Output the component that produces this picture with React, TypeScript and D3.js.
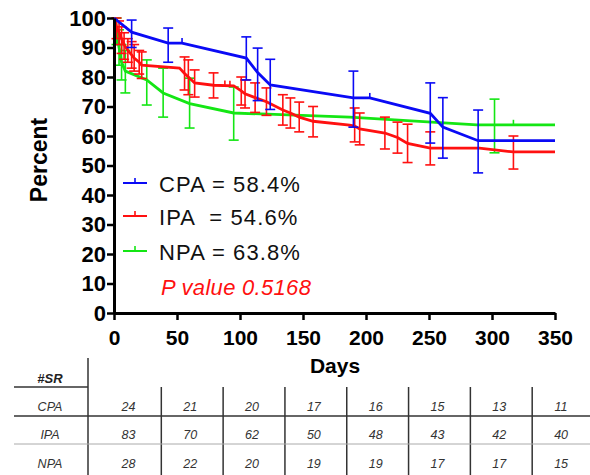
import * as d3 from "d3";
import { useEffect, useRef } from "react";

// [day, percent, lower, upper]  (null = no error bar)
type Pt = [number, number, number | null, number | null];

const cpaPoints: Pt[] = [
  [0, 100, null, null],
  [14, 95.2, 90, 99.3],
  [43, 91.5, 85, 96.6],
  [54, 91.5, null, null],
  [105, 86.4, 79, 93.6],
  [114, 81.5, 72, 89.8],
  [124, 77.3, 69, 86],
  [190, 72.9, 63, 82],
  [203, 72.9, null, null],
  [251, 67.7, 57.6, 78],
  [261, 63, 52.5, 73],
  [289, 58.4, 47.5, 68.8],
  [350, 58.4, null, null],
];

const ipaPoints: Pt[] = [
  [0, 100, null, null],
  [2, 97, 93, 100],
  [4, 95, 91, 99],
  [6, 93, 88, 97],
  [8, 91, 86, 95],
  [11, 89, 85, 93],
  [14, 87.5, 83, 92],
  [16, 86.4, 82, 91],
  [20, 85, 81, 89],
  [22, 84, 79.5, 88.5],
  [52, 83, null, null],
  [56, 81.2, 75.6, 86.8],
  [59, 80, 74, 85.8],
  [64, 78, 73.2, 82.4],
  [79, 77.2, 72.9, 81.4],
  [95, 77, null, null],
  [101, 75.3, 70.5, 80],
  [104, 74.3, 69.5, 79],
  [112, 73, 68, 78],
  [121, 71.6, 67, 76.3],
  [134, 68.8, 63.7, 74],
  [140, 67.8, 62.7, 72.9],
  [147, 66.4, 61.4, 71.5],
  [158, 65, 59.7, 70],
  [187, 63.7, null, null],
  [191, 63.4, 58, 69.5],
  [195, 62.4, 57, 67.8],
  [215, 61, 55.6, 66.4],
  [225, 59.5, 54.2, 64.7],
  [233, 57.5, 51, 64],
  [251, 55.9, 50.2, 61.4],
  [290, 55.9, null, null],
  [317, 54.6, 48.8, 60],
  [350, 54.6, null, null],
];

const npaPoints: Pt[] = [
  [0, 100, null, null],
  [2, 96, 91, 100],
  [4, 90, 84, 96],
  [6, 85, 79, 91],
  [9, 82, 74.6, 89],
  [26, 79, 70.5, 85.8],
  [39, 74.6, 66.4, 83],
  [60, 71, 62.7, 79.6],
  [95, 67.8, 58.6, 76.6],
  [187, 66.4, null, null],
  [288, 63.8, null, null],
  [302, 63.8, 54.3, 72.5],
  [350, 63.8, null, null],
];

// censored marks [day, percent]
const cpaCensored = [[54, 91.5], [203, 72.9]];
const ipaCensored = [[88, 77.1], [92, 77]];
const npaCensored = [[317, 63.8]];

const legendLabels = ["CPA = 58.4%", "IPA  = 54.6%", "NPA = 63.8%"];
const pValueLabel = "P value 0.5168";

// numbers at risk table
const tableRows = ["CPA", "IPA", "NPA"];
const cpaAtRisk = [24, 21, 20, 17, 16, 15, 13, 11];
const ipaAtRisk = [83, 70, 62, 50, 48, 43, 42, 40];
const npaAtRisk = [28, 22, 20, 19, 19, 17, 17, 15];

const xTicks = [0, 50, 100, 150, 200, 250, 300, 350];
const yTicks = [0, 10, 20, 30, 40, 50, 60, 70, 80, 90, 100];

const BLUE = "#0a0af5";
const RED = "#ff1010";
const GREEN = "#14e614";

const W = 590;
const H = 475;

export default function App() {
  const axRef = useRef<SVGGElement>(null);

  const x = d3.scaleLinear().domain([0, 350]).range([114, 555]);
  const y = d3.scaleLinear().domain([0, 100]).range([313, 18]);

  useEffect(() => {
    const g = d3.select(axRef.current);
    g.selectAll("*").remove();

    const yAxis = d3.axisLeft(y).tickValues(yTicks).tickSize(7).tickSizeOuter(0).tickPadding(1);
    const xAxis = d3.axisBottom(x).tickValues(xTicks).tickSize(7).tickSizeOuter(0).tickPadding(10);

    const gy = g.append("g").attr("transform", `translate(${x(0)},0)`).call(yAxis);
    const gx = g.append("g").attr("transform", `translate(0,${y(0)})`).call(xAxis);

    [gx, gy].forEach((a) => {
      a.select(".domain").attr("stroke", "#000").attr("stroke-width", 3);
      a.selectAll(".tick line").attr("stroke", "#000").attr("stroke-width", 2.5);
      a.selectAll(".tick text")
        .attr("fill", "#000")
        .style("font-family", "Arial, 'Liberation Sans', sans-serif")
        .style("font-weight", "bold");
    });
    gy.selectAll(".tick text").style("font-size", "22px");
    gx.selectAll(".tick text").style("font-size", "21px");
  }, []);

  const line = d3
    .line<Pt>()
    .x((d) => x(d[0]))
    .y((d) => y(d[1]));

  const series = [
    { pts: npaPoints, cens: npaCensored, color: GREEN },
    { pts: ipaPoints, cens: ipaCensored, color: RED },
    { pts: cpaPoints, cens: cpaCensored, color: BLUE },
  ];

  const cols = d3.scaleBand<number>().domain(d3.range(8)).range([99.5, 594]);
  const atRisk = [cpaAtRisk, ipaAtRisk, npaAtRisk];
  const rowBase = [411, 439, 468];

  const font = "Arial, 'Liberation Sans', sans-serif";

  return (
    <svg
      width={W}
      height={H}
      style={{ position: "absolute", left: 0, top: 0, background: "#fff" }}
      fontFamily={font}
    >
      {series.map((s, i) => (
        <g key={i}>
          {s.pts
            .filter((d) => d[2] !== null)
            .map((d, j) => (
              <g key={j} stroke={s.color} strokeWidth={1.6}>
                <line x1={x(d[0])} x2={x(d[0])} y1={y(d[2] as number)} y2={y(d[3] as number)} />
                <line x1={x(d[0]) - 5} x2={x(d[0]) + 5} y1={y(d[2] as number)} y2={y(d[2] as number)} />
                <line x1={x(d[0]) - 5} x2={x(d[0]) + 5} y1={y(d[3] as number)} y2={y(d[3] as number)} />
              </g>
            ))}
          <path d={line(s.pts) ?? ""} fill="none" stroke={s.color} strokeWidth={2.8} />
          {s.cens.map((c, j) => (
            <line key={j} x1={x(c[0])} x2={x(c[0])} y1={y(c[1])} y2={y(c[1]) - 5} stroke={s.color} strokeWidth={1.6} />
          ))}
        </g>
      ))}

      <g ref={axRef} />

      <text
        transform="translate(47,160) rotate(-90)"
        textAnchor="middle"
        fontSize={23}
        fontWeight="bold"
      >
        Percent
      </text>
      <text x={335} y={373} textAnchor="middle" fontSize={21} fontWeight="bold">
        Days
      </text>

      {/* legend */}
      {[BLUE, RED, GREEN].map((c, i) => {
        const ly = [183, 216, 251][i];
        const ty = [192, 225, 260][i];
        return (
          <g key={i}>
            <line x1={123} x2={147} y1={ly} y2={ly} stroke={c} strokeWidth={2} />
            <line x1={135} x2={135} y1={ly} y2={ly - 5} stroke={c} strokeWidth={1.6} />
            <text x={159} y={ty} fontSize={22} letterSpacing={1.1} fill="#111" style={{ whiteSpace: "pre" }}>
              {legendLabels[i]}
            </text>
          </g>
        );
      })}
      <text x={161} y={295} fontSize={22} fontStyle="italic" fill={RED} letterSpacing={0.3}>
        {pValueLabel}
      </text>

      {/* numbers at risk */}
      <g stroke="#333" strokeWidth={1.5}>
        <line x1={88} x2={88} y1={358} y2={H} />
        <line x1={14} x2={88} y1={387} y2={387} />
        <line x1={14} x2={W} y1={416} y2={416} />
        {d3.range(1, 8).map((k) => (
          <line key={k} x1={cols(k)} x2={cols(k)} y1={387} y2={H} />
        ))}
      </g>
      <line x1={14} x2={W} y1={444} y2={444} stroke="#aaa" strokeWidth={1} />
      <text x={50} y={383} textAnchor="middle" fontSize={13} fontWeight="bold" fontStyle="italic" fill="#222">
        #SR
      </text>
      {tableRows.map((r, i) => (
        <g key={r} fontStyle="italic" fontSize={12.5} fill="#333">
          <text x={50} y={rowBase[i]} textAnchor="middle">
            {r}
          </text>
          {atRisk[i].map((v, k) => (
            <text key={k} x={(cols(k) as number) + cols.bandwidth() / 2 - 2} y={rowBase[i]} textAnchor="middle">
              {v}
            </text>
          ))}
        </g>
      ))}
    </svg>
  );
}
